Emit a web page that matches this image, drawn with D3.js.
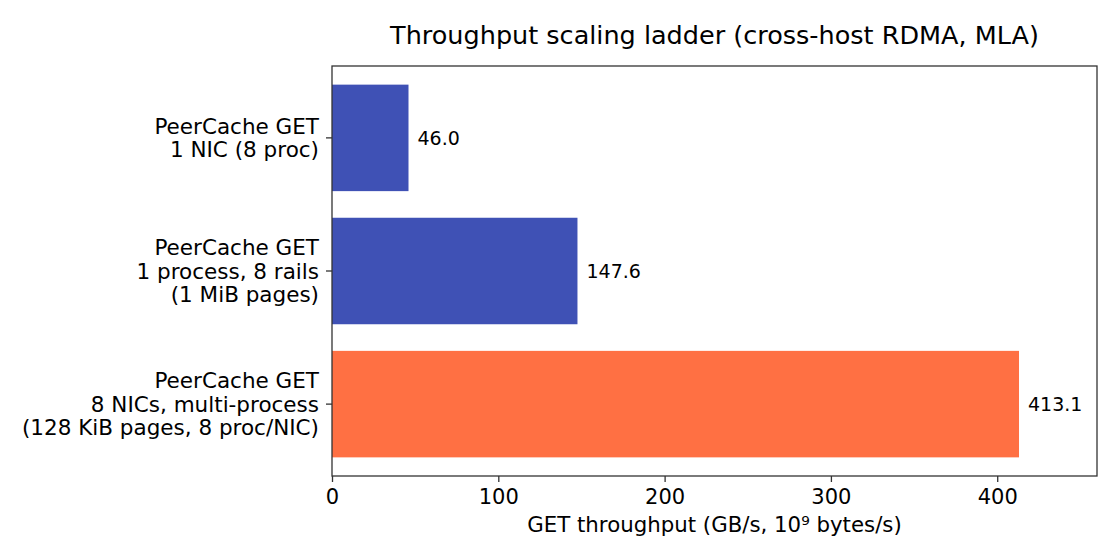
<!DOCTYPE html>
<html>
<head>
<meta charset="utf-8">
<script src="https://cdn.jsdelivr.net/npm/d3@7"></script>
<style>
  body { margin: 0; background: #fff; }
  text { font-family: "DejaVu Sans", sans-serif; fill: #000; }
</style>
</head>
<body>
<div id="chart"></div>
<script>
// data
var categories = [
  ["PeerCache GET", "1 NIC (8 proc)"],
  ["PeerCache GET", "1 process, 8 rails", "(1 MiB pages)"],
  ["PeerCache GET", "8 NICs, multi-process", "(128 KiB pages, 8 proc/NIC)"]
];
var values = [46.0, 147.6, 413.1];
var barColors = ["#3F51B5", "#3F51B5", "#FF7043"];
var xTicks = [0, 100, 200, 300, 400];

var svgWidth = 1120, svgHeight = 560;
var margin = { top: 66, right: 23, bottom: 84, left: 332 };
var width = svgWidth - margin.left - margin.right,
    height = svgHeight - margin.top - margin.bottom;

var svg = d3.select("#chart").append("svg")
  .attr("width", svgWidth)
  .attr("height", svgHeight);

var g = svg.append("g")
  .attr("transform", "translate(" + margin.left + "," + margin.top + ")");

// scales
var x = d3.scaleLinear().domain([0, 460]).range([0, width]);
// matplotlib-ish barh: positions 0..n-1, height 0.8, 5% margins
var y = d3.scaleLinear().domain([-0.54, 2.54]).range([0, height]);
var barH = 0.8;

// bars
g.selectAll(".bar")
  .data(values)
  .enter().append("rect")
  .attr("class", "bar")
  .attr("x", x(0))
  .attr("y", function (d, i) { return y(i - barH / 2); })
  .attr("width", function (d) { return x(d) - x(0); })
  .attr("height", y(barH) - y(0))
  .attr("fill", function (d, i) { return barColors[i]; });

// value labels
g.selectAll(".val")
  .data(values)
  .enter().append("text")
  .attr("class", "val")
  .attr("x", function (d) { return x(d) + 9; })
  .attr("y", function (d, i) { return y(i); })
  .attr("dy", "0.35em")
  .style("font-size", "19px")
  .text(function (d) { return d.toFixed(1); });

// frame
g.append("rect")
  .attr("width", width)
  .attr("height", height)
  .attr("fill", "none")
  .attr("stroke", "#333")
  .attr("stroke-width", 1.3);

// x axis
var xAxis = d3.axisBottom(x).tickValues(xTicks).tickSize(6).tickPadding(7);
var gx = g.append("g")
  .attr("transform", "translate(0," + height + ")")
  .call(xAxis);
gx.select(".domain").remove();
gx.selectAll(".tick line").attr("stroke", "#333").attr("stroke-width", 1.3);
gx.selectAll(".tick text").style("font-size", "21px").attr("fill", "#000");

// y ticks with multi-line labels
var lineH = 23.5;
var yt = g.selectAll(".ytick")
  .data(categories)
  .enter().append("g")
  .attr("class", "ytick")
  .attr("transform", function (d, i) { return "translate(0," + y(i) + ")"; });
yt.append("line")
  .attr("x1", -6).attr("x2", 0)
  .attr("stroke", "#333").attr("stroke-width", 1.3);
yt.each(function (lines) {
  var t = d3.select(this).append("text")
    .attr("text-anchor", "end")
    .style("font-size", "21.5px");
  var off = -(lines.length - 1) / 2 * lineH;
  lines.forEach(function (s, k) {
    t.append("tspan")
      .attr("x", -13)
      .attr("y", off + k * lineH)
      .attr("dy", "0.35em")
      .text(s);
  });
});

// axis label
g.append("text")
  .attr("x", width / 2)
  .attr("y", height + 56)
  .attr("text-anchor", "middle")
  .style("font-size", "21.3px")
  .text("GET throughput (GB/s, 10\u2079 bytes/s)");

// title
g.append("text")
  .attr("x", width / 2)
  .attr("y", -22)
  .attr("text-anchor", "middle")
  .style("font-size", "25.5px")
  .text("Throughput scaling ladder (cross-host RDMA, MLA)");
</script>
</body>
</html>
